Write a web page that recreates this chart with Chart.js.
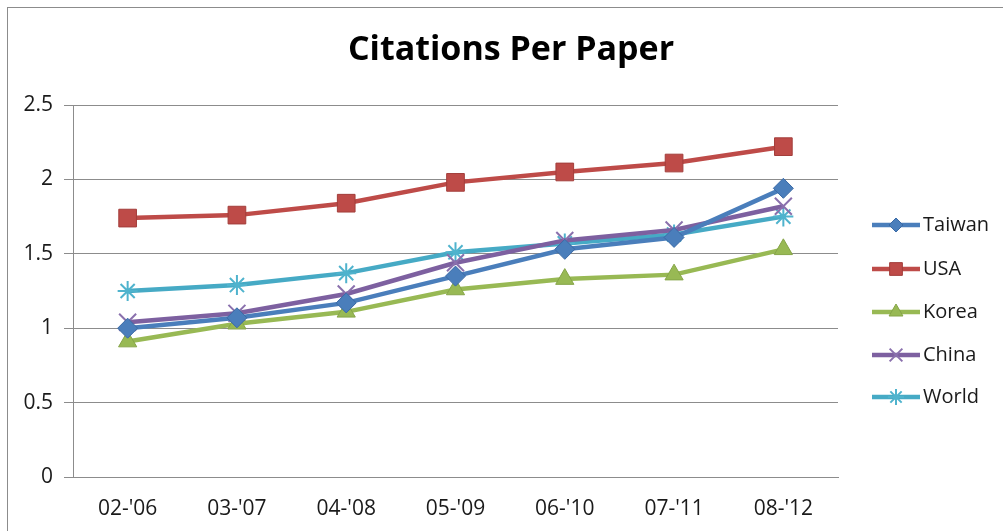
<!DOCTYPE html>
<html>
<head>
<meta charset="utf-8">
<script src="https://cdn.jsdelivr.net/npm/chart.js@4/dist/chart.umd.min.js"></script>
<style>
  html, body { margin: 0; padding: 0; background: #fff; }
  #wrap { width: 1003px; height: 531px; position: relative; }
</style>
</head>
<body>
<div id="wrap"><canvas id="c" width="1003" height="531"></canvas></div>
<script>
// Periods (five-year windows) on the category axis
const periods = ["02-'06", "03-'07", "04-'08", "05-'09", "06-'10", "07-'11", "08-'12"];

// Citations per paper for each country
const taiwan = [1.00, 1.07, 1.17, 1.35, 1.53, 1.61, 1.94];
const usa    = [1.74, 1.76, 1.84, 1.98, 2.05, 2.11, 2.22];
const korea  = [0.91, 1.03, 1.11, 1.26, 1.33, 1.36, 1.53];
const china  = [1.04, 1.10, 1.23, 1.44, 1.59, 1.66, 1.82];
const world  = [1.25, 1.29, 1.37, 1.51, 1.57, 1.63, 1.75];

// Value-axis ticks
const yTicks = [0, 0.5, 1, 1.5, 2, 2.5];

const FONT = "'Open Sans', Lato, 'Liberation Sans', sans-serif";

function series(label, data, color, edge, style, radius, pointWidth, legendRadius) {
  return {
    label, data,
    borderColor: color,
    backgroundColor: color,
    borderWidth: 4.5,
    pointStyle: style,
    pointRadius: radius,
    pointHoverRadius: radius,
    pointBackgroundColor: color,
    pointBorderColor: edge,
    pointBorderWidth: pointWidth,
    legendRadius,
    tension: 0
  };
}

const datasets = [
  series('Taiwan', taiwan, '#4a7ebb', '#3a6aa6', 'rectRot', 10, 1, 7),
  series('USA',    usa,    '#be4b48', '#a33e3b', 'rect',    12.5, 1, 9),
  series('Korea',  korea,  '#98b954', '#86a548', 'triangle', 10.5, 1, 8),
  series('China',  china,  '#7d60a0', '#8a70ad', 'crossRot', 12, 2, 9),
  series('World',  world,  '#46aac5', '#4fb3cd', 'star',    10, 2, 8)
];

// Outer frame, title and the line-with-marker legend on the right
const decor = {
  id: 'decor',
  beforeDraw(chart) {
    const ctx = chart.ctx;
    ctx.save();
    ctx.fillStyle = '#fff';
    ctx.fillRect(0, 0, chart.width, chart.height);
    ctx.strokeStyle = '#8c8c8c';
    ctx.lineWidth = 1;
    ctx.strokeRect(7.5, 7.5, 1200, 800);
    ctx.restore();
  },
  afterDraw(chart) {
    const ctx = chart.ctx;
    ctx.save();
    ctx.fillStyle = '#000';
    ctx.font = "bold 34px " + FONT;
    ctx.textAlign = 'center';
    ctx.textBaseline = 'middle';
    ctx.fillText('Citations Per Paper', 511, 50);

    const ys = [225, 269, 312, 355, 397];
    chart.data.datasets.forEach((ds, i) => {
      const y = ys[i];
      ctx.strokeStyle = ds.borderColor;
      ctx.lineWidth = 4.5;
      ctx.beginPath();
      ctx.moveTo(872, y);
      ctx.lineTo(920, y);
      ctx.stroke();
      ctx.fillStyle = ds.pointBackgroundColor;
      ctx.strokeStyle = ds.pointBorderColor;
      ctx.lineWidth = ds.pointBorderWidth;
      Chart.helpers.drawPoint(ctx, { pointStyle: ds.pointStyle, radius: ds.legendRadius, rotation: 0, borderWidth: ds.pointBorderWidth }, 896, y);
      ctx.fillStyle = '#1a1a1a';
      ctx.font = "20px " + FONT;
      ctx.textAlign = 'left';
      ctx.textBaseline = 'middle';
      ctx.fillText(ds.label, 923, y);
    });
    ctx.restore();
  }
};

new Chart(document.getElementById('c'), {
  type: 'line',
  data: { labels: periods, datasets },
  plugins: [decor],
  options: {
    responsive: false,
    animation: false,
    events: [],
    layout: { padding: { top: 105, right: 165, left: 0, bottom: 0 } },
    plugins: {
      legend: { display: false },
      title: { display: false },
      tooltip: { enabled: false }
    },
    scales: {
      x: {
        offset: true,
        grid: { display: false },
        border: { display: true, color: '#8c8c8c', width: 1 },
        ticks: { color: '#1a1a1a', font: { family: FONT, size: 21 }, padding: 11, maxRotation: 0 },
        afterFit(scale) { scale.height = 54; }
      },
      y: {
        min: 0, max: 2.5,
        afterBuildTicks(scale) { scale.ticks = yTicks.map(v => ({ value: v })); },
        grid: { color: '#8c8c8c', lineWidth: 1, drawTicks: true, tickLength: 9 },
        border: { display: true, color: '#8c8c8c', width: 1 },
        ticks: { color: '#1a1a1a', font: { family: FONT, size: 21 }, padding: 11,
                 callback: v => String(v) },
        afterFit(scale) { scale.width = 73; }
      }
    }
  }
});
</script>
</body>
</html>
